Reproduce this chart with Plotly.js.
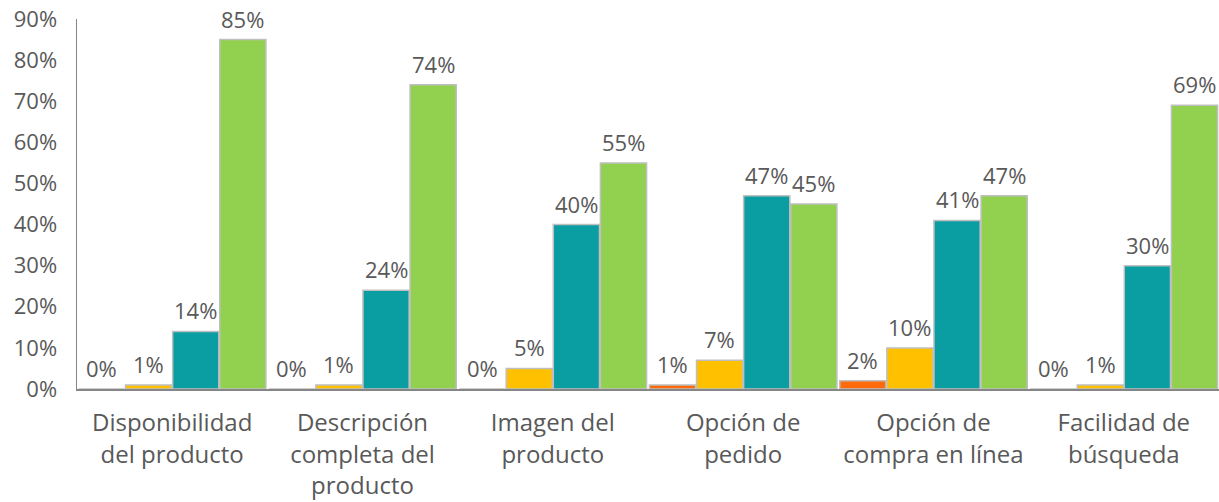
<!DOCTYPE html>
<html>
<head>
<meta charset="utf-8">
<script src="https://cdn.plot.ly/plotly-3.0.1.min.js"></script>
<style>html,body{margin:0;padding:0;background:#fff}#chart{width:1219px;height:502px}</style>
</head>
<body>
<div id="chart"></div>
<script>
const categories = ["Disponibilidad<br>del producto", "Descripción<br>completa del<br>producto", "Imagen del<br>producto", "Opción de<br>pedido", "Opción de<br>compra en línea", "Facilidad de<br>búsqueda"];
const series1 = [0, 0, 0, 1, 2, 0];
const series2 = [1, 1, 5, 7, 10, 1];
const series3 = [14, 24, 40, 47, 41, 30];
const series4 = [85, 74, 55, 45, 47, 69];
const seriesNames = ["Serie 1", "Serie 2", "Serie 3", "Serie 4"];
const colors = ["#FF6A0A", "#FFC000", "#0A9DA2", "#92D050"];
const yTicks = [0, 10, 20, 30, 40, 50, 60, 70, 80, 90];
const allSeries = [series1, series2, series3, series4];

const FONT = 'Open Sans';
const TXT = '#595959';
const bargap = 0.01;
const idx = categories.map((c, i) => i);

const traces = allSeries.map((vals, i) => ({
  type: 'bar',
  x: idx,
  y: vals,
  name: seriesNames[i],
  marker: {color: colors[i], line: {color: '#BFBFBF', width: 1.5}},
  hoverinfo: 'none'
}));

const slot = (1 - bargap) / allSeries.length;
const annotations = [];
allSeries.forEach((vals, j) => {
  vals.forEach((v, i) => {
    annotations.push({
      x: i + (j - (allSeries.length - 1) / 2) * slot,
      y: v, xref: 'x', yref: 'y',
      text: v + '%', showarrow: false,
      yanchor: 'bottom', yshift: 4,
      font: {family: FONT, size: 22, color: TXT}
    });
  });
});

const layout = {
  width: 1219, height: 502,
  margin: {l: 77, r: 0, t: 19, b: 113},
  barmode: 'group',
  bargap: bargap,
  bargroupgap: 0.02,
  showlegend: false,
  plot_bgcolor: '#fff', paper_bgcolor: '#fff',
  font: {family: FONT, color: TXT, size: 22},
  annotations: annotations,
  xaxis: {
    range: [-0.5, categories.length - 0.5],
    tickvals: idx, ticktext: categories,
    showline: true, linecolor: '#868686', linewidth: 1.5,
    ticks: '', tickfont: {family: FONT, size: 24, color: TXT},
    ticklabelstandoff: 12,
    showgrid: false, zeroline: false
  },
  yaxis: {
    range: [0, 90], tickvals: yTicks, ticktext: yTicks.map(v => v + '%'),
    showline: true, linecolor: '#868686', linewidth: 1.5,
    showgrid: false, zeroline: false, ticks: '',
    tickfont: {family: FONT, size: 22, color: TXT}, ticklabelstandoff: 14
  }
};
Plotly.newPlot('chart', traces, layout, {staticPlot: true});
</script>
</body>
</html>
